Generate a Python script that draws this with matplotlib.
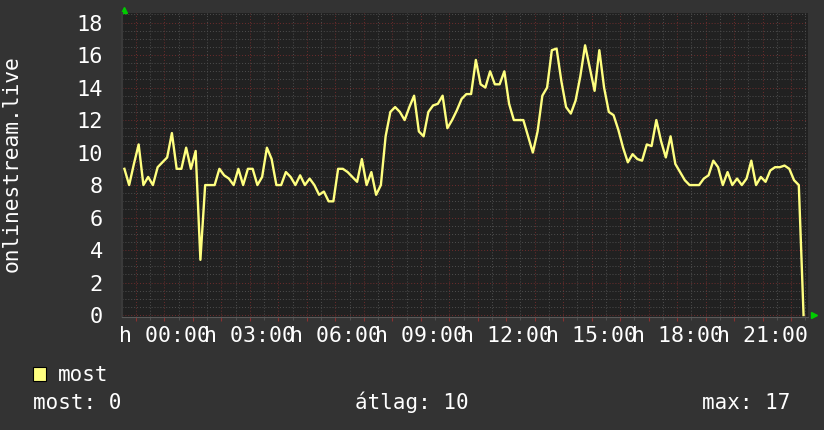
import numpy as np
import matplotlib.pyplot as plt
from matplotlib.ticker import MultipleLocator, FixedLocator, FuncFormatter
from matplotlib.patches import Rectangle

####################################################################
## Adatok (10 perces minták, kezdés előző nap 22:36)
####################################################################

start_hour = -1.4
step_hour = 10 / 60

values = [
    9, 8, 9.3, 10.5, 8, 8.5, 8, 9.1, 9.4, 9.7,
    11.2, 9, 9, 10.3, 9, 10.1, 3.4, 8, 8, 8,
    9, 8.6, 8.4, 8, 9, 8, 9, 9, 8, 8.5,
    10.3, 9.6, 8, 8, 8.8, 8.5, 8, 8.6, 8, 8.4,
    8, 7.4, 7.6, 7, 7, 9, 9, 8.8, 8.5, 8.2,
    9.6, 8, 8.8, 7.4, 8, 11, 12.5, 12.8, 12.5, 12,
    12.8, 13.5, 11.3, 11, 12.5, 12.9, 13, 13.5, 11.5, 12,
    12.6, 13.3, 13.6, 13.6, 15.7, 14.2, 14, 15, 14.2, 14.2,
    15, 13, 12, 12, 12, 11, 10, 11.3, 13.5, 14,
    16.3, 16.4, 14.4, 12.8, 12.4, 13.2, 14.7, 16.6, 15.2, 13.8,
    16.3, 14, 12.5, 12.3, 11.4, 10.3, 9.4, 9.9, 9.6, 9.5,
    10.5, 10.4, 12, 10.7, 9.7, 11, 9.3, 8.8, 8.3, 8,
    8, 8, 8.4, 8.6, 9.5, 9.1, 8, 8.8, 8, 8.4,
    8, 8.4, 9.5, 8, 8.5, 8.2, 8.9, 9.1, 9.1, 9.2,
    9, 8.3, 8, 0,
]

x_label_hours = [0, 3, 6, 9, 12, 15, 18, 21]
y_ticks = [0, 2, 4, 6, 8, 10, 12, 14, 16, 18]
y_title = 'onlinestream.live'
serie_name = 'most'
stats = ['most: 0', 'átlag: 10', 'max: 17']

####################################################################
## Rajz
####################################################################

mono = 'DejaVu Sans Mono'
fond = '#333333'
jaune = '#ffff80'

fig = plt.figure(figsize=(8.24, 4.30), dpi=100, facecolor=fond)
ax = fig.add_axes([122.3 / 824, 1 - 316.7 / 430, 686 / 824, 303.4 / 430], facecolor='#212121')

t = start_hour + step_hour * np.arange(len(values))
ax.plot(t, values, color=jaune, lw=1.7, zorder=3)

ax.set_xlim(-1.474, 22.6)
ax.set_ylim(-0.1, 18.57)

# grille : rouge pour les heures / pas de 2, gris pour les demi
ax.xaxis.set_major_locator(FixedLocator(list(range(-1, 23))))
ax.xaxis.set_minor_locator(MultipleLocator(0.5))
ax.yaxis.set_major_locator(FixedLocator(y_ticks))
ax.yaxis.set_minor_locator(MultipleLocator(0.5))
ax.grid(which='minor', color='#4e4e4e', lw=0.7, ls=(0, (1, 2)), zorder=1)
ax.grid(which='major', color='#6e2c2c', lw=0.7, ls=(0, (1, 2)), zorder=2)


def label_x(h, pos):
    h = int(round(h))
    if h in x_label_hours:
        return 'h %02d:00' % h
    return ''


ax.xaxis.set_major_formatter(FuncFormatter(label_x))
ax.tick_params(axis='x', which='major', length=3, color='#8a3030', pad=4,
               labelsize=15.5, labelcolor='white')
ax.tick_params(axis='x', which='minor', length=2, color='#555555')
ax.tick_params(axis='y', which='both', length=0, pad=14, labelsize=15.8, labelcolor='white')
for lab in ax.get_xticklabels() + ax.get_yticklabels():
    lab.set_family(mono)

for s in ['top', 'right']:
    ax.spines[s].set_visible(False)
ax.spines['left'].set_color('#3a3a3a')
ax.spines['left'].set_linewidth(1.5)
ax.spines['bottom'].set_color('#5a5a5a')
ax.spines['bottom'].set_linewidth(0.8)

# petites flèches vertes des axes
ax.plot([124 / 824], [1 - 10 / 430], marker='^', color='#00cc00', ms=5,
        transform=fig.transFigure, clip_on=False)
ax.plot([814 / 824], [1 - 315 / 430], marker='>', color='#00cc00', ms=5,
        transform=fig.transFigure, clip_on=False)

fig.text(12 / 824, 1 - 164 / 430, y_title, rotation=90, ha='center', va='center',
         color='white', fontsize=15.3, family=mono)

# légende
fig.patches.append(Rectangle((33 / 824, 1 - 381 / 430), 13 / 824, 14 / 430,
                             transform=fig.transFigure, facecolor=jaune,
                             edgecolor='black', lw=0.8))
fig.text(58 / 824, 1 - 381 / 430, serie_name, color='white', fontsize=15,
         family=mono, va='baseline')
for txt, x in zip(stats, [33, 355, 702]):
    fig.text(x / 824, 1 - 409 / 430, txt, color='white', fontsize=15,
             family=mono, va='baseline')

fig.savefig('out.png', dpi=100, facecolor=fond)
